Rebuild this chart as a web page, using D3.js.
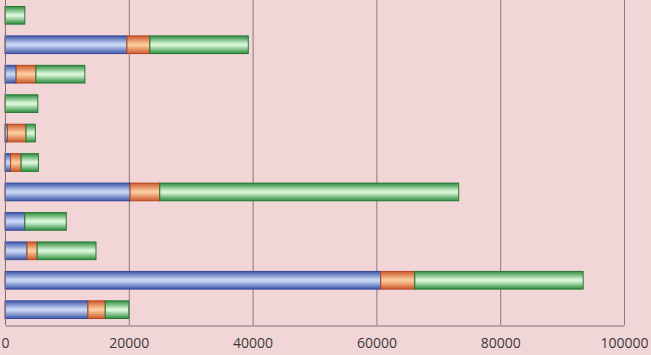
<!DOCTYPE html>
<html>
<head>
<meta charset="utf-8">
<script src="https://cdn.jsdelivr.net/npm/d3@7"></script>
<style>
  body { margin: 0; background: #f2d5d6; }
  svg { display: block; }
</style>
</head>
<body>
<div id="chart"></div>
<script>
// data (rows top to bottom)
var categories = ["c1", "c2", "c3", "c4", "c5", "c6", "c7", "c8", "c9", "c10", "c11"];
var seriesBlue   = [0, 19700, 1800, 0, 400, 900, 20200, 3200, 3550, 60700, 13400];
var seriesOrange = [0, 3700, 3200, 0, 3000, 1700, 4800, 0, 1650, 5500, 2800];
var seriesGreen  = [3200, 15900, 7900, 5300, 1500, 2800, 48300, 6700, 9500, 27200, 3800];
var xTicks = [0, 20000, 40000, 60000, 80000, 100000];

const width = 651, height = 355;
const margin = {top: 0, right: 27, bottom: 30, left: 5};

var svg = d3.select("#chart")
    .append("svg")
        .attr("width", width)
        .attr("height", height);

svg.append("rect")
    .attr("width", width).attr("height", height)
    .attr("fill", "#f2d5d6");

var seriesKeys = ["blue", "orange", "green"];
var colors = {
    blue:   {edge: "#3d56a6", mid: "#c6d4f4", stroke: "#33489a"},
    orange: {edge: "#cc5a2c", mid: "#fbc899", stroke: "#b84420"},
    green:  {edge: "#2e8c3e", mid: "#d6f4d6", stroke: "#237a32"}
};

// cylinder-ish gradients
var defs = svg.append("defs");
seriesKeys.forEach(function(k) {
    var gr = defs.append("linearGradient")
        .attr("id", "grad-" + k)
        .attr("x1", 0).attr("y1", 0).attr("x2", 0).attr("y2", 1);
    gr.append("stop").attr("offset", "0%").attr("stop-color", colors[k].edge);
    gr.append("stop").attr("offset", "45%").attr("stop-color", colors[k].mid);
    gr.append("stop").attr("offset", "55%").attr("stop-color", colors[k].mid);
    gr.append("stop").attr("offset", "100%").attr("stop-color", colors[k].edge);
});

var xScale = d3.scaleLinear()
    .domain([0, 100000])
    .range([margin.left, width - margin.right]);

var yScale = d3.scaleBand()
    .domain(categories)
    .range([margin.top, height - margin.bottom])
    .paddingInner(0.4)
    .paddingOuter(0.22);

var plotBottom = height - margin.bottom;

// gridlines
svg.append("g")
    .selectAll("line")
    .data(xTicks.slice(1))
    .enter().append("line")
        .attr("x1", function(d) { return xScale(d) + 0.5; })
        .attr("x2", function(d) { return xScale(d) + 0.5; })
        .attr("y1", margin.top)
        .attr("y2", plotBottom)
        .style("stroke", "#8c7a7c")
        .style("stroke-width", 1);

// stacked bars
var table = categories.map(function(c, i) {
    return {cat: c, blue: seriesBlue[i], orange: seriesOrange[i], green: seriesGreen[i]};
});
var stacked = d3.stack().keys(seriesKeys)(table);

svg.append("g")
    .selectAll("g")
    .data(stacked)
    .enter().append("g")
        .attr("fill", function(d) { return "url(#grad-" + d.key + ")"; })
        .attr("stroke", function(d) { return colors[d.key].stroke; })
    .selectAll("rect")
    .data(function(d) { return d.filter(function(p) { return p[1] - p[0] > 0; }); })
    .enter().append("rect")
        .attr("x", function(d) { return xScale(d[0]); })
        .attr("width", function(d) { return xScale(d[1]) - xScale(d[0]); })
        .attr("y", function(d) { return yScale(d.data.cat); })
        .attr("height", yScale.bandwidth())
        .attr("stroke-width", 1);

// axes lines
svg.append("line")
    .attr("x1", xScale(0) + 0.5).attr("x2", xScale(0) + 0.5)
    .attr("y1", margin.top).attr("y2", plotBottom)
    .style("stroke", "#7f6f71");

const xAxis = d3.axisBottom(xScale).tickValues(xTicks).tickSize(0).tickPadding(13)
    .tickFormat(d3.format("d"));
var xg = svg.append("g")
    .attr("transform", `translate(0,${plotBottom + 0.5})`)
    .call(xAxis);
xg.select(".domain").style("stroke", "#7f6f71");
xg.selectAll("text")
    .style("font-family", "'Open Sans', sans-serif")
    .style("font-size", "14px")
    .style("fill", "#3a3a3a");
</script>
</body>
</html>
